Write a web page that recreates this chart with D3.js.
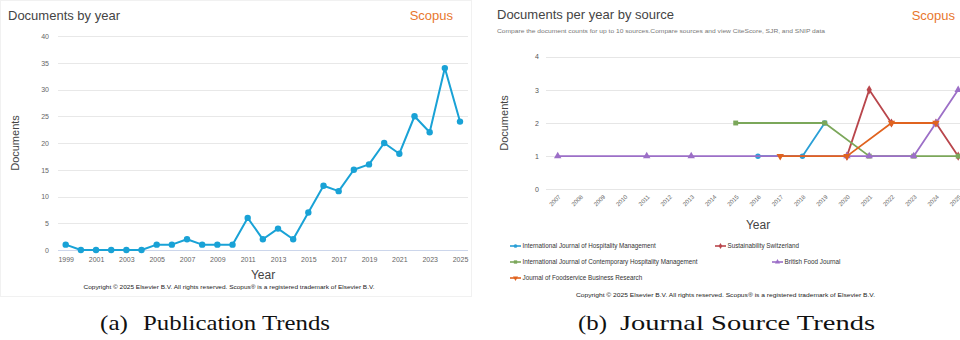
<!DOCTYPE html>
<html>
<head>
<meta charset="utf-8">
<script src="https://cdn.jsdelivr.net/npm/d3@7/dist/d3.min.js"></script>
<style>
  html, body { margin: 0; padding: 0; background: #fff; }
  svg { display: block; font-family: "Liberation Sans", Arial, sans-serif; }
</style>
</head>
<body>
<svg id="fig" width="960" height="340"></svg>
<script>
// ---- Panel (a): documents by year ----
const yearsA = d3.range(1999, 2026);
const docsA = [1, 0, 0, 0, 0, 0, 1, 1, 2, 1, 1, 1, 6, 2, 4, 2, 7, 12, 11, 15, 16, 20, 18, 25, 22, 34, 24];
const yTicksA = [0, 5, 10, 15, 20, 25, 30, 35, 40];
const xTicksA = d3.range(1999, 2026, 2);

// ---- Panel (b): documents per year by source ----
const yearsB = d3.range(2007, 2026);
const yTicksB = [0, 1, 2, 3, 4];
const sourceNames = [
  "International Journal of Hospitality Management",
  "Sustainability Switzerland",
  "International Journal of Contemporary Hospitality Management",
  "British Food Journal",
  "Journal of Foodservice Business Research"
];
const sourceColors = ["#2a9fd6", "#b9464c", "#7ba75a", "#9c6fc7", "#e0631f"];
const sourceSymbols = ["circle", "diamond", "square", "triangle", "triangle-down"];
const ijhmYears = [2016, 2018, 2019];
const ijhmDocs = [1, 1, 2];
const sustYears = [2020, 2021, 2022, 2024, 2025];
const sustDocs = [1, 3, 2, 2, 1];
const ijchmYears = [2015, 2019, 2021, 2023, 2025];
const ijchmDocs = [2, 2, 1, 1, 1];
const bfjYears = [2007, 2011, 2013, 2020, 2021, 2023, 2024, 2025];
const bfjDocs = [1, 1, 1, 1, 1, 1, 2, 3];
const jfbrYears = [2017, 2020, 2022, 2024];
const jfbrDocs = [1, 1, 2, 2];

const seriesB = [
  [ijhmYears, ijhmDocs], [sustYears, sustDocs], [ijchmYears, ijchmDocs],
  [bfjYears, bfjDocs], [jfbrYears, jfbrDocs]
].map(([ys, vs], i) => ({
  name: sourceNames[i], color: sourceColors[i], symbol: sourceSymbols[i],
  points: ys.map((y, j) => ({ year: y, value: vs[j] }))
}));

const copyright = "Copyright \u00a9 2025 Elsevier B.V. All rights reserved. Scopus\u00ae is a registered trademark of Elsevier B.V.";

const svg = d3.select("#fig");

function symbolPath(kind, size) {
  const t = { circle: d3.symbolCircle, diamond: d3.symbolDiamond, square: d3.symbolSquare,
              triangle: d3.symbolTriangle, "triangle-down": d3.symbolTriangle }[kind];
  return d3.symbol().type(t).size(size)();
}

// ================= Panel (a) =================
const gA = svg.append("g");
gA.append("rect").attr("x", 0.5).attr("y", 0.5).attr("width", 471).attr("height", 296)
  .attr("fill", "#fff").attr("stroke", "#f1f1f1");

const xA = d3.scaleLinear().domain([1999, 2025]).range([65.7, 460]);
const yA = d3.scaleLinear().domain([0, 40]).range([250, 36]);

gA.append("text").attr("x", 8).attr("y", 20).attr("font-size", 13).attr("fill", "#444")
  .text("Documents by year");
gA.append("text").attr("x", 453).attr("y", 20).attr("text-anchor", "end")
  .attr("font-size", 13).attr("fill", "#e8772e").text("Scopus");

// gridlines
gA.append("g").selectAll("line").data(yTicksA).join("line")
  .attr("x1", 58).attr("x2", 468)
  .attr("y1", d => Math.round(yA(d)) + 0.5).attr("y2", d => Math.round(yA(d)) + 0.5)
  .attr("stroke", d => d === 0 ? "#ccd6eb" : "#e8e8e8").attr("stroke-width", 1);

// y axis
const yAxisA = d3.axisLeft(yA).tickValues(yTicksA).tickFormat(d3.format("d")).tickSize(0).tickPadding(0);
gA.append("g").attr("transform", "translate(49,0)").call(yAxisA)
  .call(g => g.select(".domain").remove())
  .call(g => g.selectAll("text").attr("font-size", 7).attr("fill", "#666")
    .attr("font-family", "Liberation Sans, Arial, sans-serif"));

// x axis
const xAxisA = d3.axisBottom(xA).tickValues(xTicksA).tickFormat(d3.format("d")).tickSize(0).tickPadding(0);
gA.append("g").attr("transform", "translate(0,257)").call(xAxisA)
  .call(g => g.select(".domain").remove())
  .call(g => g.selectAll("text").attr("font-size", 7).attr("fill", "#666")
    .attr("font-family", "Liberation Sans, Arial, sans-serif"));

gA.append("text").attr("transform", "translate(19,143) rotate(-90)").attr("text-anchor", "middle")
  .attr("font-size", 11).attr("fill", "#444").text("Documents");
gA.append("text").attr("x", 263).attr("y", 279).attr("text-anchor", "middle")
  .attr("font-size", 12).attr("fill", "#444").text("Year");
gA.append("text").attr("x", 229).attr("y", 289).attr("text-anchor", "middle")
  .attr("font-size", 6.2).attr("fill", "#222").attr("textLength", 291).attr("lengthAdjust", "spacingAndGlyphs")
  .text(copyright);

const ptsA = yearsA.map((y, i) => ({ year: y, value: docsA[i] }));
gA.append("path").datum(ptsA)
  .attr("fill", "none").attr("stroke", "#19a2d6").attr("stroke-width", 2).attr("stroke-linejoin", "round")
  .attr("d", d3.line().x(d => xA(d.year)).y(d => yA(d.value)));
gA.append("g").selectAll("circle").data(ptsA).join("circle")
  .attr("cx", d => xA(d.year)).attr("cy", d => yA(d.value)).attr("r", 3.2).attr("fill", "#19a2d6");

// ================= Panel (b) =================
const gB = svg.append("g");
const xB = d3.scaleLinear().domain([2007, 2025]).range([557.7, 958.2]);
const yB = d3.scaleLinear().domain([0, 4]).range([189.3, 56.7]);

gB.append("text").attr("x", 497).attr("y", 19).attr("font-size", 13).attr("fill", "#444")
  .text("Documents per year by source");
gB.append("text").attr("x", 955).attr("y", 20).attr("text-anchor", "end")
  .attr("font-size", 13).attr("fill", "#e8772e").text("Scopus");
gB.append("text").attr("x", 497).attr("y", 33).attr("font-size", 5.8).attr("fill", "#777")
  .attr("textLength", 328).attr("lengthAdjust", "spacingAndGlyphs")
  .text("Compare the document counts for up to 10 sources.Compare sources and view CiteScore, SJR, and SNIP data");

gB.append("g").selectAll("line").data(yTicksB).join("line")
  .attr("x1", 546).attr("x2", 960)
  .attr("y1", d => Math.round(yB(d)) + 0.5).attr("y2", d => Math.round(yB(d)) + 0.5)
  .attr("stroke", "#e6e6e6");

const yAxisB = d3.axisLeft(yB).tickValues(yTicksB).tickFormat(d3.format("d")).tickSize(0).tickPadding(0);
gB.append("g").attr("transform", "translate(539,0)").call(yAxisB)
  .call(g => g.select(".domain").remove())
  .call(g => g.selectAll("text").attr("font-size", 7).attr("fill", "#555")
    .attr("font-family", "Liberation Sans, Arial, sans-serif"));

const xAxisB = d3.axisBottom(xB).tickValues(yearsB).tickFormat(d3.format("d")).tickSize(0).tickPadding(0);
gB.append("g").attr("transform", "translate(0,196)").call(xAxisB)
  .call(g => g.select(".domain").remove())
  .call(g => g.selectAll("text").attr("font-size", 6).attr("fill", "#666")
    .attr("font-family", "Liberation Sans, Arial, sans-serif")
    .attr("text-anchor", "end").attr("dy", "0.5em").attr("dx", "0.2em")
    .attr("transform", "rotate(-45)"));

gB.append("text").attr("transform", "translate(508,123) rotate(-90)").attr("text-anchor", "middle")
  .attr("font-size", 11).attr("fill", "#444").text("Documents");
gB.append("text").attr("x", 758).attr("y", 229).attr("text-anchor", "middle")
  .attr("font-size", 12).attr("fill", "#444").text("Year");

const lineB = d3.line().x(d => xB(d.year)).y(d => yB(d.value));
const sG = gB.append("g").selectAll("g").data(seriesB).join("g");
sG.append("path").attr("d", d => lineB(d.points)).attr("fill", "none")
  .attr("stroke", d => d.color).attr("stroke-width", 1.8).attr("stroke-linejoin", "round");
sG.each(function (s) {
  d3.select(this).selectAll("path.m").data(s.points).join("path").attr("class", "m")
    .attr("d", symbolPath(s.symbol, 24))
    .attr("transform", d => `translate(${xB(d.year)},${yB(d.value)})${s.symbol === "triangle-down" ? " rotate(180)" : ""}`)
    .attr("fill", s.color);
});

// legend
const legendPos = [[510, 246], [715, 246], [510, 262], [772, 262], [510, 278]];
const lg = gB.append("g").selectAll("g").data(seriesB).join("g")
  .attr("transform", (d, i) => `translate(${legendPos[i][0]},${legendPos[i][1]})`);
lg.append("line").attr("x1", 0).attr("x2", 11).attr("stroke", d => d.color).attr("stroke-width", 1.6);
lg.append("path").attr("d", d => symbolPath(d.symbol, 11))
  .attr("transform", d => `translate(5.5,0)${d.symbol === "triangle-down" ? " rotate(180)" : ""}`)
  .attr("fill", d => d.color);
lg.append("text").attr("x", 12.5).attr("y", 2.2).attr("font-size", 6.3).attr("fill", "#333")
  .text(d => d.name);

gB.append("text").attr("x", 725.5).attr("y", 297).attr("text-anchor", "middle")
  .attr("font-size", 6.2).attr("fill", "#222").attr("textLength", 299).attr("lengthAdjust", "spacingAndGlyphs")
  .text(copyright);

// ================= Captions =================
const cap = svg.append("g").attr("font-family", "Liberation Serif, 'DejaVu Serif', serif")
  .attr("font-size", 22).attr("fill", "#111");
cap.append("text").attr("x", 100).attr("y", 330).attr("textLength", 28).attr("lengthAdjust", "spacingAndGlyphs").text("(a)");
cap.append("text").attr("x", 143).attr("y", 330).attr("textLength", 187).attr("lengthAdjust", "spacingAndGlyphs").text("Publication Trends");
cap.append("text").attr("x", 578).attr("y", 330).attr("textLength", 29).attr("lengthAdjust", "spacingAndGlyphs").text("(b)");
cap.append("text").attr("x", 620).attr("y", 330).attr("textLength", 255).attr("lengthAdjust", "spacingAndGlyphs").text("Journal Source Trends");
</script>
</body>
</html>
